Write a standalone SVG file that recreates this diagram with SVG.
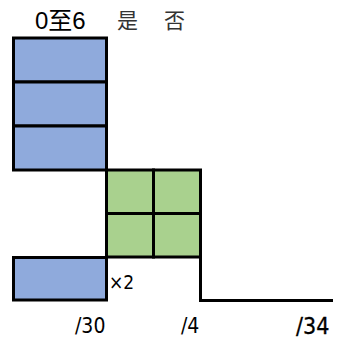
<svg xmlns="http://www.w3.org/2000/svg" width="342" height="339" viewBox="0 0 342 339">
<style>
.b{fill:#8FAADC;stroke:#000;stroke-width:3}
.g{fill:#A9D18E;stroke:#000;stroke-width:3}
.ln{fill:none;stroke:#000;stroke-width:3}
.t{font-family:"Liberation Sans","Noto Sans CJK SC",sans-serif;fill:#000}
.n{font-family:"DejaVu Sans Condensed","Liberation Sans",sans-serif;font-stretch:condensed;fill:#000}
</style>
<rect width="342" height="339" fill="#fff"/>
<g id="header">
<text class="t" x="35" y="29" font-size="24">0至6</text>
<text class="t" x="117" y="28" font-size="21" style="fill:#333">是</text>
<text class="t" x="164" y="28" font-size="21" style="fill:#333">否</text>
</g>
<g id="blue1"><rect class="b" x="13.5" y="38" width="93" height="44"/></g>
<g id="blue2"><rect class="b" x="13.5" y="82" width="93" height="44"/></g>
<g id="blue3"><rect class="b" x="13.5" y="126" width="93" height="44"/></g>
<g id="green">
<rect class="g" x="106.5" y="170" width="47" height="43.5"/>
<rect class="g" x="153.5" y="170" width="47" height="43.5"/>
<rect class="g" x="106.5" y="213.5" width="47" height="43.5"/>
<rect class="g" x="153.5" y="213.5" width="47" height="43.5"/>
</g>
<g id="blue4"><rect class="b" x="13.5" y="257.5" width="93" height="42.5"/>
<text class="n" x="109" y="289" font-size="19">×2</text></g>
<g id="connectors"><polyline class="ln" points="200.5,257 200.5,300.5 333,300.5"/></g>
<g id="labels">
<text class="n" x="75" y="333" font-size="21">/30</text>
<text class="n" x="181" y="333" font-size="21">/4</text>
<text class="n" x="296" y="334" font-size="23" stroke="#000" stroke-width="0.3">/34</text>
</g>
</svg>
